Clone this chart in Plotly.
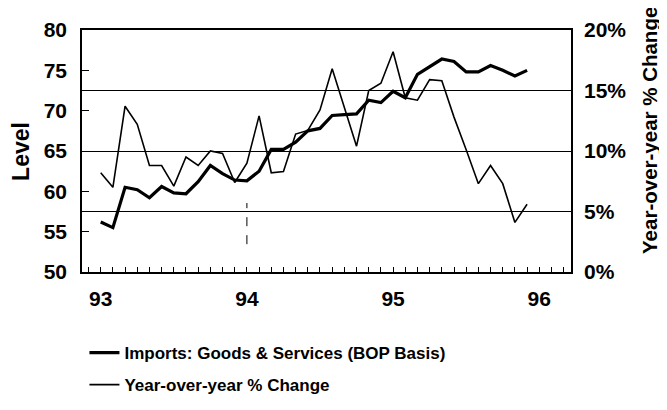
import plotly.graph_objects as go

# Monthly data, Jan 1993 - Dec 1995
years = [1993, 1994, 1995]
months = list(range(12))
level = [56.2, 55.5, 60.5, 60.2, 59.2, 60.6, 59.8, 59.7, 61.2, 63.2, 62.2, 61.4,
         61.3, 62.5, 65.2, 65.2, 66.1, 67.5, 67.8, 69.4, 69.5, 69.6, 71.3, 71.0,
         72.4, 71.6, 74.5, 75.5, 76.4, 76.1, 74.8, 74.8, 75.6, 75.0, 74.3, 75.0]
yoy_pct = [8.2, 7.0, 13.7, 12.2, 8.8, 8.8, 7.1, 9.5, 8.8, 10.0, 9.8, 7.4,
           9.0, 12.9, 8.2, 8.3, 11.4, 11.7, 13.4, 16.8, 13.6, 10.4, 15.0, 15.6,
           18.2, 14.4, 14.2, 15.9, 15.8, 12.8, 10.1, 7.3, 8.8, 7.3, 4.1, 5.6]
x_tick_vals = [1993, 1994, 1995, 1996]
x_tick_text = ["93", "94", "95", "96"]
level_ticks = [50, 55, 60, 65, 70, 75, 80]
pct_ticks = [0, 5, 10, 15, 20]
pct_tick_text = ["0%", "5%", "10%", "15%", "20%"]

x = [y + m / 12 for y in years for m in months]

FONT = "Liberation Sans, Arial, sans-serif"

fig = go.Figure()
fig.add_trace(go.Scatter(
    x=x, y=level, mode="lines", name="Imports: Goods & Services (BOP Basis)",
    line=dict(color="black", width=3.2), legendgroup="a", yaxis="y"))
fig.add_trace(go.Scatter(
    x=x, y=yoy_pct, mode="lines", name="Year-over-year % Change",
    line=dict(color="black", width=1.6), legendgroup="b", yaxis="y2"))

# small dashed vertical mark at 94
fig.add_shape(type="line", xref="x", yref="y2", x0=1994, x1=1994, y0=2.3, y1=5.7,
              line=dict(color="black", width=1, dash="dash"))

# page body has an 8px margin, so the figure is 8px smaller than the window
fig.update_layout(
    width=659, height=402,
    margin=dict(l=74, r=96, t=22, b=138, autoexpand=False),
    paper_bgcolor="white", plot_bgcolor="white",
    font=dict(family=FONT, size=21, color="black", weight="bold"),
    showlegend=True,
    legend=dict(xref="container", yref="container", x=0.116, y=0.102,
                xanchor="left", yanchor="middle",
                font=dict(family=FONT, size=17, color="black", weight="bold"),
                tracegroupgap=7, bgcolor="rgba(0,0,0,0)", itemwidth=30),
    xaxis=dict(range=[1992.872, 1996.217], tickvals=x_tick_vals, ticktext=x_tick_text,
               ticks="inside", ticklen=5, tickcolor="black", tickwidth=1,
               ticklabelstandoff=7, automargin=False,
               minor=dict(dtick=1 / 12, tick0=1993, ticks="inside", ticklen=5,
                          tickcolor="black", tickwidth=1, showgrid=False),
               showline=True, linecolor="black", linewidth=1.5, mirror=True,
               showgrid=False, zeroline=False,
               tickfont=dict(family=FONT, size=21, weight="bold")),
    yaxis=dict(range=[50, 80], tickvals=level_ticks, ticks="inside", ticklen=7,
               tickcolor="black", tickwidth=1, ticklabelstandoff=9,
               automargin=False,
               showline=True, linecolor="black", linewidth=1.5, mirror=True,
               showgrid=False, zeroline=False,
               tickfont=dict(family=FONT, size=21, weight="bold")),
    yaxis2=dict(range=[0, 20], tickvals=pct_ticks, ticktext=pct_tick_text,
                overlaying="y", side="right", ticks="", ticklabelstandoff=12,
                automargin=False,
                showgrid=True, gridcolor="black", gridwidth=1.3,
                showline=False, zeroline=False,
                tickfont=dict(family=FONT, size=21, weight="bold")),
    annotations=[
        dict(text="Level", xref="paper", yref="paper", x=-0.125, y=0.5,
             xanchor="center", yanchor="middle", textangle=-90, showarrow=False,
             font=dict(family=FONT, size=23, weight="bold")),
        dict(text="Year-over-year % Change", xref="paper", yref="paper",
             x=1.1616, y=0.583, xanchor="center", yanchor="middle", textangle=-90,
             showarrow=False, font=dict(family=FONT, size=20.5, weight="bold")),
    ],
)

fig.write_html("out.html")
